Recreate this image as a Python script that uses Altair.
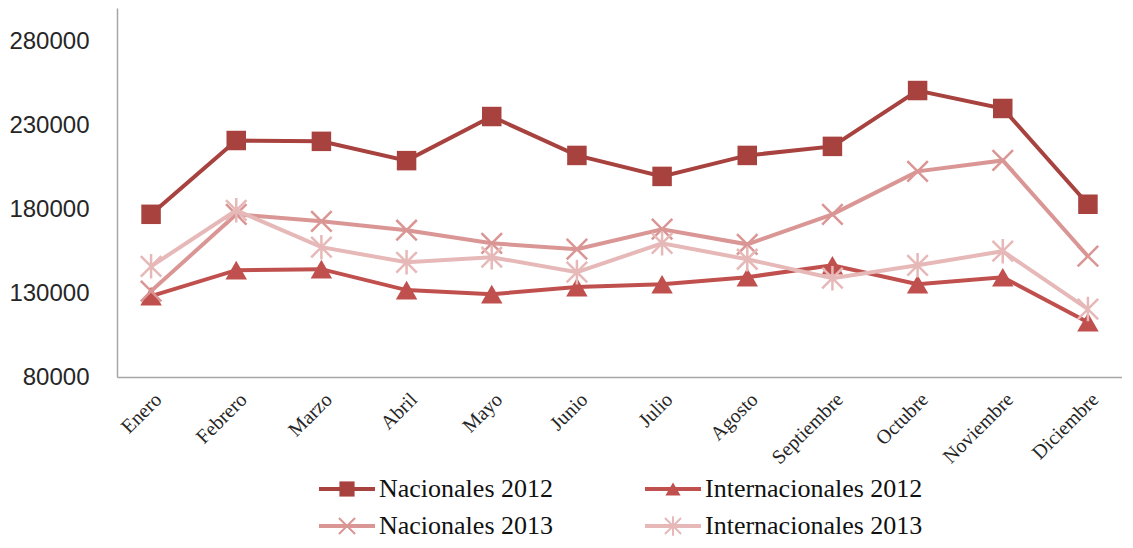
import altair as alt
import pandas as pd

meses = ["Enero", "Febrero", "Marzo", "Abril", "Mayo", "Junio", "Julio",
         "Agosto", "Septiembre", "Octubre", "Noviembre", "Diciembre"]
series = ["Nacionales 2012", "Internacionales 2012", "Nacionales 2013", "Internacionales 2013"]

nacionales_2012 = [177000, 221000, 220500, 209000, 235300, 212100, 199600, 212100, 217500, 250800, 240100, 183000]
internacionales_2012 = [128200, 143700, 144300, 131800, 129400, 133600, 135300, 139500, 146600, 135300, 139500, 112700]
nacionales_2013 = [131200, 177000, 172800, 167500, 159700, 156200, 168100, 159100, 177000, 202600, 209100, 152000]
internacionales_2013 = [146000, 179400, 157400, 148400, 151400, 142500, 159700, 150200, 138900, 146600, 155000, 120500]

y_ticks = [80000, 130000, 180000, 230000, 280000]

colores = ["#A7423F", "#C0504D", "#D99694", "#E6B9B8"]
X_PATH = "M-1,-1L1,1M-1,1L1,-1"
AST_PATH = "M-1,-1L1,1M-1,1L1,-1M0,-1.2L0,1.2"
formas = ["square", "triangle-up", X_PATH, AST_PATH]

valores = [nacionales_2012, internacionales_2012, nacionales_2013, internacionales_2013]
rows = []
for s, vals in zip(series, valores):
    for m, v in zip(meses, vals):
        rows.append({"serie": s, "mes": m, "valor": v})
df = pd.DataFrame(rows)

color_scale = alt.Scale(domain=series, range=colores)
shape_scale = alt.Scale(domain=series, range=formas)

x_enc = alt.X("mes:N", sort=meses, title=None,
              scale=alt.Scale(type="point", padding=0.4),
              axis=alt.Axis(labelAngle=-45, ticks=False, grid=False,
                            domainColor="#A6A6A6", domainWidth=1.5,
                            labelFont="Liberation Serif", labelFontSize=20,
                            labelColor="#262626", labelPadding=12))
y_enc = alt.Y("valor:Q", title=None,
              scale=alt.Scale(domain=[80000, 300000], nice=False, zero=False),
              axis=alt.Axis(values=y_ticks, format="d", ticks=False, grid=False,
                            domainColor="#A6A6A6", domainWidth=1.5,
                            labelFont="Liberation Sans", labelFontSize=24,
                            labelColor="#262626", labelPadding=28))

capas = []
for i, s in enumerate(series):
    base = alt.Chart(df).transform_filter(alt.datum.serie == s)
    linea = base.mark_line(strokeWidth=4).encode(
        x=x_enc, y=y_enc,
        color=alt.Color("serie:N", scale=color_scale, legend=None))
    if i < 2:
        pm = base.mark_point(filled=True, opacity=1, size=380 if i == 0 else 460)
    else:
        pm = base.mark_point(filled=False, opacity=1, size=420, strokeWidth=2.5)
    puntos = pm.encode(
        x=x_enc, y=y_enc,
        color=alt.Color("serie:N", scale=color_scale, legend=None),
        shape=alt.Shape("serie:N", scale=shape_scale, legend=None))
    capas += [linea, puntos]

main = alt.layer(*capas).properties(width=1005, height=369)

# Legend (2 columns x 2 rows)
ley = pd.DataFrame({"serie": series,
                    "col": [i % 2 for i in range(4)],
                    "fila": [i // 2 for i in range(4)]})
lx = alt.X("col:O", scale=alt.Scale(type="point", padding=0.7055), axis=None)
ly = alt.Y("fila:O", scale=alt.Scale(type="point", padding=0.3243), axis=None)
lbase = alt.Chart(ley)
l_rule = lbase.mark_rule(strokeWidth=4, xOffset=-28, x2Offset=28).encode(
    x=lx, x2="col:O", y=ly,
    color=alt.Color("serie:N", scale=color_scale, legend=None))
l_fill = lbase.transform_filter(alt.datum.col == 0 if False else alt.datum.fila == 0).mark_point(
    filled=True, opacity=1, size=230).encode(
    x=lx, y=ly,
    color=alt.Color("serie:N", scale=color_scale, legend=None),
    shape=alt.Shape("serie:N", scale=shape_scale, legend=None))
l_open = lbase.transform_filter(alt.datum.fila == 1).mark_point(
    filled=False, opacity=1, size=260, strokeWidth=2).encode(
    x=lx, y=ly,
    color=alt.Color("serie:N", scale=color_scale, legend=None),
    shape=alt.Shape("serie:N", scale=shape_scale, legend=None))
l_text = lbase.mark_text(align="left", baseline="middle", dx=32,
                         font="Liberation Serif", fontSize=26, color="#111111").encode(
    x=lx, y=ly, text="serie:N")
legend = alt.layer(l_rule, l_fill, l_open, l_text).properties(width=786, height=61)

chart = alt.vconcat(main, legend, spacing=100, bounds="flush").properties(
    padding={"left": 0, "top": 0, "right": 0, "bottom": 0}
).configure_view(strokeWidth=0)

chart.save("out.html", embed_options={"renderer": "svg", "actions": False})
